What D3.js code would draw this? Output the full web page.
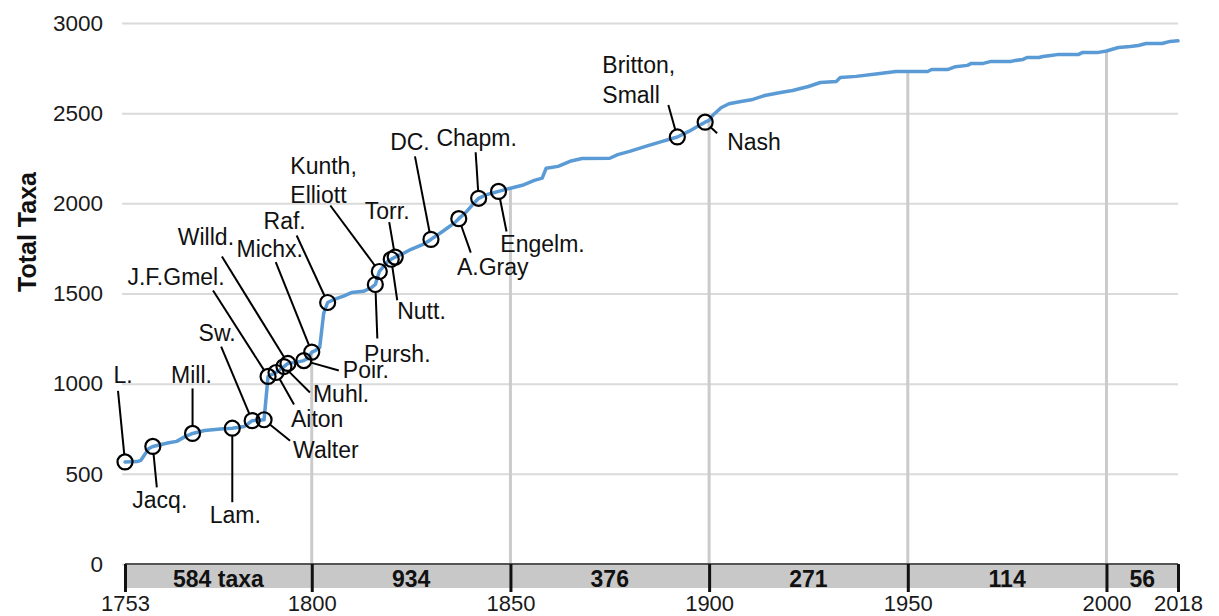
<!DOCTYPE html>
<html>
<head>
<meta charset="utf-8">
<script src="https://cdn.jsdelivr.net/npm/d3@7"></script>
<style>
  body { margin: 0; background: #fff; }
  svg { display: block; font-family: "Liberation Sans", Arial, sans-serif; }
</style>
</head>
<body>
<svg id="chart" width="1219" height="616"></svg>
<script>
// cumulative taxa by year
const years = [1753, 1756, 1757, 1759, 1760, 1764, 1766, 1768, 1770, 1773, 1777, 1780, 1783, 1785, 1788,
  1789, 1790, 1791, 1792, 1793, 1794, 1796, 1798, 1799, 1800, 1801, 1802, 1803, 1804, 1806, 1808, 1810,
  1813, 1815, 1816, 1817, 1819, 1820, 1821, 1823, 1825, 1828, 1830, 1833, 1836, 1837, 1839, 1841, 1842,
  1844, 1846, 1847, 1848, 1850, 1853, 1856, 1858, 1859, 1862, 1865, 1868, 1875, 1877, 1880, 1884, 1888,
  1892, 1895, 1898, 1899, 1900, 1901, 1903, 1905, 1908, 1911, 1914, 1918, 1921, 1925, 1928, 1932, 1933,
  1937, 1943, 1947, 1950, 1955, 1956, 1960, 1962, 1965, 1966, 1969, 1971, 1976, 1977, 1979, 1980, 1983,
  1984, 1986, 1988, 1993, 1994, 1998, 2000, 2003, 2006, 2008, 2010, 2014, 2016, 2018];
const totals = [566, 568, 575, 640, 652, 672, 680, 705, 724, 740, 748, 753, 762, 795, 800,
  1040, 1052, 1062, 1078, 1095, 1112, 1118, 1128, 1140, 1175, 1185, 1200, 1390, 1450, 1470, 1485, 1505,
  1512, 1532, 1550, 1622, 1675, 1690, 1702, 1722, 1745, 1772, 1800, 1845, 1893, 1915, 1955, 2005, 2028,
  2048, 2060, 2066, 2072, 2084, 2100, 2127, 2140, 2195, 2205, 2233, 2249, 2250, 2270, 2288, 2316, 2342,
  2368, 2400, 2438, 2450, 2460, 2490, 2530, 2552, 2565, 2576, 2598, 2615, 2626, 2648, 2670, 2676, 2698,
  2704, 2720, 2731, 2731, 2731, 2742, 2742, 2758, 2765, 2776, 2776, 2787, 2787, 2792, 2798, 2809, 2809,
  2814, 2820, 2826, 2826, 2837, 2837, 2845, 2864, 2870, 2875, 2886, 2886, 2898, 2901];

const periodYears = [1753, 1800, 1850, 1900, 1950, 2000, 2018];
const periodLabels = ['584 taxa', '934', '376', '271', '114', '56'];
const dropYears = [1800, 1850, 1900, 1950, 2000];
const yTicks = [0, 500, 1000, 1500, 2000, 2500, 3000];

const authors = ['L.', 'Jacq.', 'Mill.', 'Lam.', 'Sw.', 'Walter', 'J.F.Gmel.', 'Aiton', 'Muhl.', 'Willd.',
  'Poir.', 'Michx.', 'Raf.', 'Pursh.', 'Kunth,\nElliott', 'Nutt.', 'Torr.', 'DC.', 'A.Gray', 'Chapm.',
  'Engelm.', 'Britton,\nSmall', 'Nash'];
const authorYears = [1753, 1760, 1770, 1780, 1785, 1788, 1789, 1791, 1793, 1794,
  1798, 1800, 1804, 1816, 1817, 1820, 1821, 1830, 1837, 1842, 1847, 1892, 1899];

// label placement relative to each circle: text dx, dy, anchor, leader start dx, dy
const labelLayout = {
  'L.': [-2, -87, 'middle', -7, -71],
  'Jacq.': [7, 54, 'middle', 4, 41],
  'Mill.': [-1, -58, 'middle', 0, -45],
  'Lam.': [3, 87, 'middle', 0, 74],
  'Sw.': [-35, -88, 'middle', -31, -74],
  'Walter': [29, 30, 'start', 26, 21],
  'J.F.Gmel.': [-92, -100, 'middle', -55, -86],
  'Aiton': [15, 46, 'start', 18, 32],
  'Muhl.': [29, 27, 'start', 26, 26],
  'Willd.': [-82, -127, 'middle', -66, -107],
  'Poir.': [39, 9, 'start', 35, 10],
  'Michx.': [-42, -103, 'middle', -36, -90],
  'Raf.': [-43, -82, 'middle', -31, -67],
  'Pursh.': [22, 69, 'middle', 2, 54],
  'Kunth,\nElliott': [-89, -106, 'start', -49, -66],
  'Nutt.': [6, 52, 'start', 6, 41],
  'Torr.': [-8, -46, 'middle', -6, -35],
  'DC.': [-21, -97, 'middle', -16, -83],
  'A.Gray': [34, 48, 'middle', 12, 34],
  'Chapm.': [-2, -60, 'middle', -3, -46],
  'Engelm.': [44, 53, 'middle', 8, 40],
  'Britton,\nSmall': [-75, -72, 'start', -9, -32],
  'Nash': [22, 20, 'start', 12, 11]
};

const width = 1219, height = 616;
const left = 122, right = 1178;
const r = 7.5;

const svg = d3.select('#chart');
svg.append('rect').attr('width', width).attr('height', height).attr('fill', '#fff');

const x = d3.scaleLinear().domain([1753, 2018]).range([125, right]);
const y = d3.scaleLinear().domain([0, 3000]).range([564, 23]);

const series = years.map((yr, i) => ({year: yr, total: totals[i]}));
const totalAt = yr => totals[years.indexOf(yr)];

// horizontal grid + y labels
let yAxis = svg.append('g')
    .attr('transform', `translate(${left},0)`)
    .call(d3.axisLeft(y).tickValues(yTicks).tickFormat(d3.format('d'))
        .tickSize(-(right - left)).tickPadding(19));
yAxis.attr('font-family', null).attr('font-size', 22.5);
yAxis.select('.domain').remove();
yAxis.selectAll('line').attr('stroke', '#dadada').attr('stroke-width', 2);
yAxis.selectAll('text').attr('fill', '#1a1a1a');

svg.append('text')
    .attr('transform', 'translate(27,232) rotate(-90)')
    .attr('text-anchor', 'middle')
    .attr('dominant-baseline', 'central')
    .attr('font-size', 25)
    .attr('font-weight', 'bold')
    .attr('fill', '#111')
    .text('Total Taxa');

// drop lines from the curve to the axis
svg.append('g')
    .selectAll('line')
    .data(dropYears)
    .enter()
    .append('line')
        .attr('x1', d => x(d)).attr('x2', d => x(d))
        .attr('y1', d => y(totalAt(d))).attr('y2', y(0))
        .attr('stroke', '#cbcbcb')
        .attr('stroke-width', 3);

// period band
svg.append('rect')
    .attr('x', x(1753)).attr('y', y(0))
    .attr('width', x(2018) - x(1753)).attr('height', 24)
    .attr('fill', '#c8c8c8');
svg.append('line')
    .attr('x1', x(1753)).attr('x2', x(2018))
    .attr('y1', y(0)).attr('y2', y(0))
    .attr('stroke', '#555').attr('stroke-width', 2);

svg.append('g')
    .selectAll('text')
    .data(periodLabels)
    .enter()
    .append('text')
        .attr('x', (d, i) => (x(periodYears[i]) + x(periodYears[i + 1])) / 2)
        .attr('y', 579)
        .attr('text-anchor', 'middle')
        .attr('dominant-baseline', 'central')
        .attr('font-size', 23)
        .attr('font-weight', 'bold')
        .attr('fill', '#111')
        .text(d => d);

let xAxis = svg.append('g')
    .attr('transform', `translate(0,${y(0)})`)
    .call(d3.axisBottom(x).tickValues(periodYears).tickFormat(d3.format('d'))
        .tickSize(28).tickPadding(3));
xAxis.attr('font-family', null).attr('font-size', 22);
xAxis.select('.domain').remove();
xAxis.selectAll('line').attr('stroke', '#111').attr('stroke-width', 3);
xAxis.selectAll('text').attr('fill', '#1a1a1a');

// the curve
svg.append('path')
    .datum(series)
    .attr('fill', 'none')
    .attr('stroke', '#5b9bd5')
    .attr('stroke-width', 3.5)
    .attr('stroke-linejoin', 'round')
    .attr('stroke-linecap', 'round')
    .attr('d', d3.line().x(d => x(d.year)).y(d => y(d.total)));

// author annotations
let notes = authors.map((name, i) => {
    let cx = x(authorYears[i]), cy = y(totalAt(authorYears[i]));
    let [tdx, tdy, anchor, ldx, ldy] = labelLayout[name];
    let len = Math.hypot(ldx, ldy);
    return {name, cx, cy, tdx, tdy, anchor,
        lx: cx + ldx, ly: cy + ldy,
        ex: cx + ldx / len * r, ey: cy + ldy / len * r};
});

svg.append('g')
    .selectAll('line')
    .data(notes)
    .enter()
    .append('line')
        .attr('x1', d => d.lx).attr('y1', d => d.ly)
        .attr('x2', d => d.ex).attr('y2', d => d.ey)
        .attr('stroke', '#000')
        .attr('stroke-width', 2);

svg.append('g')
    .selectAll('circle')
    .data(notes)
    .enter()
    .append('circle')
        .attr('cx', d => d.cx).attr('cy', d => d.cy)
        .attr('r', r)
        .attr('fill', 'none')
        .attr('stroke', '#000')
        .attr('stroke-width', 2.2);

let labels = svg.append('g')
    .selectAll('text')
    .data(notes)
    .enter()
    .append('text')
        .attr('x', d => d.cx + d.tdx)
        .attr('y', d => d.cy + d.tdy)
        .attr('text-anchor', d => d.anchor)
        .attr('font-size', 23)
        .attr('fill', '#111');

labels.selectAll('tspan')
    .data(d => d.name.split('\n').map((t, k) => ({t, k, x: d.cx + d.tdx})))
    .enter()
    .append('tspan')
        .attr('x', d => d.x)
        .attr('dy', d => d.k === 0 ? '0.35em' : '1.3em')
        .text(d => d.t);
</script>
</body>
</html>
